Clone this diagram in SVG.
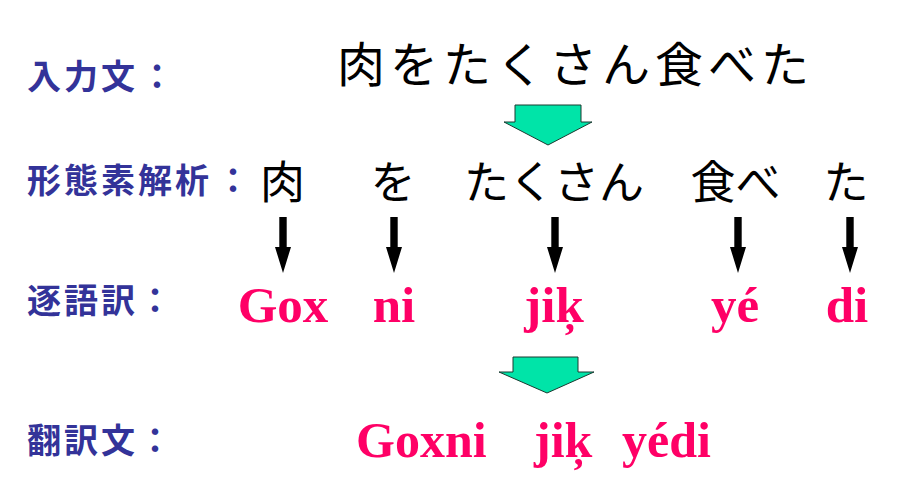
<svg xmlns="http://www.w3.org/2000/svg" width="907" height="482" viewBox="0 0 907 482">
<style>
.lbl{font-family:"Noto Sans CJK JP","Noto Sans CJK SC",sans-serif;font-weight:bold;font-size:34px;fill:#333399;letter-spacing:3px}
.jp{font-family:"Noto Sans CJK JP","Noto Sans CJK SC",sans-serif;fill:#000}
.big{font-size:48px;letter-spacing:5px}
.mid{font-size:45px;text-anchor:middle}
.rom{font-family:"Liberation Serif","Times New Roman",serif;font-weight:bold;fill:#FF0066}
.r1{font-size:51px;text-anchor:middle}
.r2{font-size:50px}
.green{fill:#00E4A8;stroke:#1a3a30;stroke-width:1}
</style>
<defs>
<path id="blk" d="M-3.7,0 H3.7 V30 H8 L0,56 L-8,30 H-3.7 Z" fill="#000"/>
</defs>
<rect width="907" height="482" fill="#fff"/>
<g id="labels">
<text class="lbl" x="27" y="89">入力文<tspan x="140">：</tspan></text>
<text class="lbl" x="27" y="193">形態素解析<tspan x="216">：</tspan></text>
<text class="lbl" x="27" y="313">逐語訳<tspan x="138">：</tspan></text>
<text class="lbl" x="27" y="453">翻訳文<tspan x="138">：</tspan></text>
</g>
<g id="input">
<text class="jp big" x="337" y="82">肉をたくさん食べた</text>
</g>
<g id="morphemes">
<text class="jp mid" x="282.5" y="199">肉</text>
<text class="jp mid" x="393" y="199">を</text>
<text class="jp mid" x="554" y="199">たくさん</text>
<text class="jp mid" x="735.5" y="199">食べ</text>
<text class="jp mid" x="846" y="199">た</text>
</g>
<g id="gloss">
<text class="rom r1" x="283" y="322">Gox</text>
<text class="rom r1" x="394" y="322">ni</text>
<text class="rom r1" x="554" y="322">jiķ</text>
<text class="rom r1" x="735" y="322">yé</text>
<text class="rom r1" x="847" y="322">di</text>
</g>
<g id="translation">
<text class="rom r2" y="457"><tspan x="356">Goxni</tspan><tspan x="534">jiķ</tspan><tspan x="622">yédi</tspan></text>
</g>
<g id="connectors">
<path class="green" d="M515,105 H581 V122 H592 L548,145 L504,122 H515 Z"/>
<path class="green" d="M513,357 H578 V372 H594 L547,393 L499,372 H513 Z"/>
<use href="#blk" x="283" y="217"/>
<use href="#blk" x="394" y="217"/>
<use href="#blk" x="555" y="217"/>
<use href="#blk" x="738" y="217"/>
<use href="#blk" x="850" y="217"/>
</g>
</svg>
